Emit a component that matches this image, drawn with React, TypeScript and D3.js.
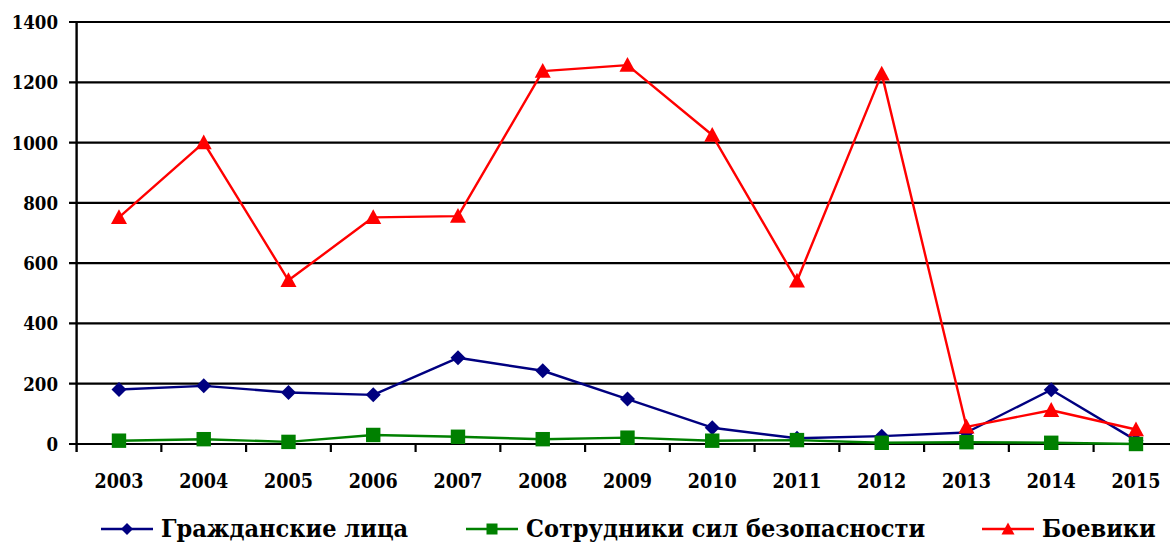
import React from "react";
import * as d3 from "d3";

const years = ["2003","2004","2005","2006","2007","2008","2009","2010","2011","2012","2013","2014","2015"];
const civilians = [181, 193, 171, 163, 286, 243, 149, 54, 19, 26, 38, 180, 12];
const security = [11, 16, 7, 30, 24, 16, 21, 11, 13, 4, 6, 4, 0];
const militants = [752, 1000, 543, 752, 756, 1237, 1257, 1025, 541, 1228, 57, 112, 48];
const yTicks = [0, 200, 400, 600, 800, 1000, 1200, 1400];
const seriesNames = ["Гражданские лица", "Сотрудники сил безопасности", "Боевики"];

const W = 1170, H = 544;
const x0 = 76.6, bandW = 84.75;
const top = 22, bottom = 444;
const font = "'DejaVu Serif Condensed', 'DejaVu Serif', serif";

function Marker({ kind, cx, cy, color, s }: { kind: string; cx: number; cy: number; color: string; s: number }) {
  if (kind === "diamond") {
    const r = s;
    return <path d={`M${cx},${cy - r}L${cx + r},${cy}L${cx},${cy + r}L${cx - r},${cy}Z`} fill={color} />;
  }
  if (kind === "square") {
    return <rect x={cx - s} y={cy - s} width={2 * s} height={2 * s} fill={color} />;
  }
  const h = s * 1.85;
  return <path d={`M${cx},${cy - h * 0.55}L${cx + s},${cy + h * 0.45}L${cx - s},${cy + h * 0.45}Z`} fill={color} />;
}

export default function App() {
  const x = d3.scaleBand<string>().domain(years).range([x0, x0 + bandW * years.length]);
  const y = d3.scaleLinear().domain([0, 1400]).range([bottom, top]);
  const cx = (yr: string) => (x(yr) as number) + x.bandwidth() / 2;
  const line = d3.line<number>().x((_, i) => cx(years[i])).y((v) => y(v));

  const series = [
    { name: seriesNames[0], data: civilians, color: "#000080", kind: "diamond", s: 7.5 },
    { name: seriesNames[1], data: security, color: "#008000", kind: "square", s: 7.2 },
    { name: seriesNames[2], data: militants, color: "#FF0000", kind: "triangle", s: 8 },
  ];
  const legendX = [101, 466, 982];
  const legendMarkerS = [6, 5.5, 6.5];
  const textStyle = { fontFamily: font, fontWeight: 700 as const };

  return (
    <svg width={W} height={H} style={{ position: "absolute", left: 0, top: 0, background: "#fff" }}>
      {yTicks.map((t) => (
        <g key={t}>
          <line x1={69} x2={W + 20} y1={y(t)} y2={y(t)} stroke="#000" strokeWidth={2.2} />
          <text x={58} y={y(t) + 7} textAnchor="end" style={{ ...textStyle, fontSize: 18.5 }} fill="#000">{t}</text>
        </g>
      ))}
      <line x1={x0} x2={x0} y1={top - 1} y2={bottom + 8} stroke="#000" strokeWidth={2.4} />
      {years.map((yr) => (
        <g key={yr}>
          <line x1={(x(yr) as number) + x.bandwidth()} x2={(x(yr) as number) + x.bandwidth()} y1={bottom} y2={bottom + 8} stroke="#000" strokeWidth={2.2} />
          <text x={cx(yr)} y={488} textAnchor="middle" style={{ ...textStyle, fontSize: 19.5 }} fill="#000">{yr}</text>
        </g>
      ))}
      {series.map((s) => (
        <g key={s.name}>
          <path d={line(s.data) || ""} fill="none" stroke={s.color} strokeWidth={2.4} strokeLinejoin="round" />
          {s.data.map((v, i) => (
            <Marker key={i} kind={s.kind} cx={cx(years[i])} cy={y(v)} color={s.color} s={s.s} />
          ))}
        </g>
      ))}
      {series.map((s, i) => (
        <g key={"lg" + i}>
          <line x1={legendX[i]} x2={legendX[i] + 52} y1={529} y2={529} stroke={s.color} strokeWidth={2.6} />
          <Marker kind={s.kind} cx={legendX[i] + 26} cy={529} color={s.color} s={legendMarkerS[i]} />
          <text x={legendX[i] + 60} y={537} style={{ ...textStyle, fontSize: 25 }} fill="#000">{s.name}</text>
        </g>
      ))}
    </svg>
  );
}
